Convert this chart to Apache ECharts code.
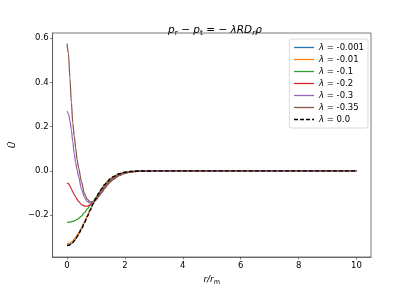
<!DOCTYPE html>
<html><head><meta charset="utf-8">
<script src="https://cdn.jsdelivr.net/npm/echarts@6/dist/echarts.min.js"></script>
<style>html,body{margin:0;padding:0;background:#fff}#c{width:412px;height:291px}</style>
</head><body><div id="c"></div>
<script>
const xs = [0,0.05,0.1,0.15,0.2,0.25,0.3,0.35,0.4,0.5,0.6,0.7,0.8,0.9,1.0,1.1,1.2,1.3,1.4,1.5,1.6,1.8,2.0,2.2,2.5,3,4,5,6,7,8,9,10];
const lam0001 = [-0.336,-0.335,-0.333,-0.328,-0.323,-0.315,-0.306,-0.296,-0.285,-0.261,-0.234,-0.206,-0.177,-0.149,-0.124,-0.100,-0.080,-0.062,-0.047,-0.035,-0.026,-0.013,-0.006,-0.0027,-0.0006,-0.0001,0,0,0,0,0,0,0];
const lam001 = [-0.328,-0.327,-0.325,-0.321,-0.316,-0.308,-0.300,-0.290,-0.280,-0.257,-0.231,-0.203,-0.175,-0.148,-0.123,-0.100,-0.080,-0.062,-0.048,-0.036,-0.026,-0.013,-0.006,-0.0027,-0.0006,-0.0001,0,0,0,0,0,0,0];
const lam01 = [-0.232,-0.2318,-0.231,-0.2295,-0.228,-0.226,-0.223,-0.219,-0.215,-0.204,-0.189,-0.172,-0.155,-0.138,-0.120,-0.101,-0.083,-0.067,-0.053,-0.041,-0.031,-0.016,-0.0075,-0.0033,-0.0008,-0.0001,0,0,0,0,0,0,0];
const lam02 = [-0.055,-0.058,-0.068,-0.081,-0.095,-0.107,-0.118,-0.129,-0.138,-0.152,-0.159,-0.159,-0.153,-0.143,-0.127,-0.108,-0.090,-0.073,-0.058,-0.045,-0.034,-0.018,-0.009,-0.004,-0.001,-0.0001,0,0,0,0,0,0,0];
const lam03 = [0.270,0.258,0.228,0.185,0.130,0.077,0.036,0.005,-0.025,-0.083,-0.118,-0.138,-0.146,-0.142,-0.130,-0.112,-0.094,-0.077,-0.061,-0.048,-0.036,-0.020,-0.010,-0.0045,-0.0012,-0.0001,0,0,0,0,0,0,0];
const lam035 = [0.575,0.530,0.420,0.310,0.215,0.157,0.102,0.050,0.015,-0.050,-0.102,-0.128,-0.140,-0.140,-0.132,-0.116,-0.098,-0.080,-0.064,-0.050,-0.038,-0.021,-0.011,-0.005,-0.0013,-0.0001,0,0,0,0,0,0,0];
const lam0 = [-0.337,-0.336,-0.334,-0.329,-0.324,-0.316,-0.307,-0.297,-0.286,-0.262,-0.235,-0.206,-0.177,-0.149,-0.124,-0.100,-0.080,-0.062,-0.047,-0.035,-0.026,-0.013,-0.006,-0.0027,-0.0006,-0.0001,0,0,0,0,0,0,0];
const names = ['-0.001','-0.01','-0.1','-0.2','-0.3','-0.35','0.0'];
const values = [lam0001, lam001, lam01, lam02, lam03, lam035, lam0];
const colors = ['#1f77b4','#ff7f0e','#2ca02c','#d62728','#9467bd','#8c564b','#000000'];
const xTicks = [0,2,4,6,8,10];
const yTicks = [-0.2,0.0,0.2,0.4,0.6];

const FONT = 'DejaVu Sans';
const series = values.map((v, i) => ({
  name: names[i],
  type: 'line',
  data: xs.map((x, j) => [x, v[j]]),
  symbol: 'none',
  smooth: 0.3,
  smoothMonotone: 'x',
  z: 2 + i,
  lineStyle: { color: colors[i], width: i === 6 ? 1.4 : 1.25, type: i === 6 ? [4, 2] : 'solid' },
  itemStyle: { color: colors[i] }
}));

const chart = echarts.init(document.getElementById('c'), null, { renderer: 'canvas' });
chart.setOption({
  animation: false,
  backgroundColor: '#fff',
  title: {
    text: '{i|p}{s|r}{n| − }{i|p}{s|t}{n| = − }{i|λRD}{si|r}{i|ρ}',
    left: 210, top: 18, textAlign: 'center',
    textStyle: {
      fontWeight: 'normal',
      rich: {
        i: { fontFamily: FONT, fontStyle: 'italic', fontWeight: 'normal', fontSize: 10.5, color: '#000' },
        n: { fontFamily: FONT, fontWeight: 'normal', fontSize: 10.5, color: '#000' },
        s: { fontFamily: FONT, fontWeight: 'normal', fontSize: 7.5, color: '#000', padding: [6, 0, 0, 0] },
        si: { fontFamily: FONT, fontStyle: 'italic', fontWeight: 'normal', fontSize: 7.5, color: '#000', padding: [6, 0, 0, 0] }
      }
    }
  },
  grid: { left: 52, right: 41, top: 33, bottom: 33, show: true, borderColor: '#555', borderWidth: 0.8, containLabel: false },
  legend: {
    orient: 'vertical', right: 44, top: 39,
    itemWidth: 20, itemHeight: 10, itemGap: 3,
    padding: [4, 4, 4, 4],
    borderColor: '#d0d0d0', borderWidth: 0.8, borderRadius: 2,
    backgroundColor: 'rgba(255,255,255,0.85)',
    itemStyle: { opacity: 0 },
    lineStyle: { width: 1.3 },
    formatter: n => '{l|λ}{t| = ' + n + '}',
    textStyle: {
      fontFamily: FONT, fontSize: 8.5, color: '#000',
      rich: { l: { fontFamily: FONT, fontStyle: 'italic', fontSize: 8.5 }, t: { fontFamily: FONT, fontSize: 8.5 } }
    },
    data: names
  },
  xAxis: {
    type: 'value', min: -0.5, max: 10.5,
    name: '{i|r/r}{s|m}', nameLocation: 'middle', nameGap: 17,
    nameTextStyle: { rich: {
      i: { fontFamily: FONT, fontStyle: 'italic', fontSize: 9, color: '#000' },
      s: { fontFamily: FONT, fontSize: 6.5, color: '#000', padding: [5, 0, 0, 0] } } },
    axisLine: { show: true, onZero: false, lineStyle: { color: '#555', width: 0.8 } },
    axisTick: { show: true, length: 2.5, lineStyle: { color: '#333', width: 0.6 }, customValues: xTicks },
    axisLabel: { fontFamily: FONT, fontSize: 8.5, color: '#000', margin: 4, customValues: xTicks, formatter: v => String(v) },
    splitLine: { show: false }
  },
  yAxis: {
    type: 'value', min: -0.389, max: 0.623,
    name: 'U\u0304', nameLocation: 'middle', nameGap: 31, nameRotate: 90,
    nameTextStyle: { fontFamily: FONT, fontStyle: 'italic', fontSize: 9, color: '#000' },
    axisLine: { show: true, onZero: false, lineStyle: { color: '#555', width: 0.8 } },
    axisTick: { show: true, length: 2.5, lineStyle: { color: '#333', width: 0.6 }, customValues: yTicks },
    axisLabel: { fontFamily: FONT, fontSize: 8.5, color: '#000', margin: 4, customValues: yTicks,
      formatter: v => (v < 0 ? '\u2212' : '') + Math.abs(v).toFixed(1) },
    splitLine: { show: false }
  },
  series: series
});
</script></body></html>
